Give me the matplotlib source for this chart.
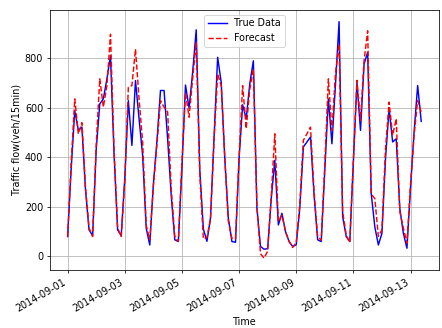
import numpy as np
import pandas as pd
import matplotlib
matplotlib.use("Agg")
import matplotlib.pyplot as plt
import matplotlib.dates as mdates

# 3-hourly samples starting 2014-09-01
times = pd.date_range("2014-09-01 00:00", periods=100, freq="3h")

true_data = [79, 354, 588, 508, 521, 268, 106, 83, 429, 615,
             635, 716, 809, 411, 106, 83, 314, 628, 447, 709,
             555, 407, 113, 45, 290, 464, 669, 669, 474, 246,
             66, 59, 354, 691, 598, 742, 914, 350, 110, 60,
             153, 480, 803, 702, 394, 153, 59, 56, 394, 611,
             555, 696, 789, 193, 39, 28, 30, 230, 387, 126,
             173, 99, 59, 39, 46, 193, 441, 461, 481, 246,
             66, 59, 346, 635, 454, 695, 947, 160, 79, 59,
             380, 702, 508, 776, 823, 253, 119, 45, 92, 394,
             595, 461, 474, 193, 92, 32, 275, 501, 689, 544]

forecast = [79, 380, 635, 494, 539, 280, 113, 79, 450, 716,
            602, 689, 896, 430, 113, 79, 300, 682, 689, 836,
            635, 461, 125, 66, 280, 450, 628, 602, 582, 273,
            80, 59, 380, 660, 561, 716, 863, 330, 70, 75,
            150, 470, 736, 689, 400, 140, 72, 70, 400, 689,
            515, 675, 755, 200, 10, -8, 20, 240, 494, 140,
            165, 100, 60, 35, 55, 210, 468, 494, 521, 260,
            80, 64, 370, 716, 508, 740, 856, 180, 85, 55,
            390, 710, 547, 790, 910, 250, 233, 80, 106, 434,
            622, 488, 555, 180, 114, 52, 290, 488, 628, 582]

fig = plt.figure(figsize=(442 / 69, 328 / 69), dpi=69)
ax = fig.add_subplot(111)
ax.plot(times, true_data, 'b-', label='True Data')
ax.plot(times, forecast, 'r--', label='Forecast')
ax.xaxis.set_major_locator(mdates.DayLocator(bymonthday=range(1, 32, 2)))
ax.xaxis.set_major_formatter(mdates.DateFormatter('%Y-%m-%d'))
ax.grid(True)
ax.legend(loc='upper center')
ax.set_xlabel('Time')
ax.set_ylabel('Traffic flow(veh/15min)')
fig.autofmt_xdate()
fig.subplots_adjust(left=0.113, right=0.993, top=0.970, bottom=0.177)
fig.savefig("out.png", dpi=69)
